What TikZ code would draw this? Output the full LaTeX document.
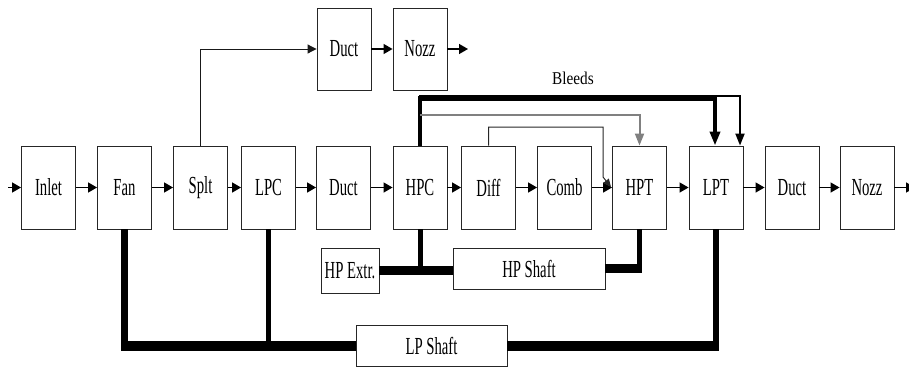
\documentclass[tikz,border=0pt]{standalone}
\usepackage{fontspec}
\setmainfont{Liberation Serif}[FakeStretch=0.6]
\newfontfamily\bleedfont{Liberation Serif}[FakeStretch=0.85]
\usetikzlibrary{arrows.meta}
\begin{document}
\begin{tikzpicture}[x=1pt,y=-1pt,
  blk/.style={draw=black!85, fill=white, line width=0.9pt, minimum width=54pt, minimum height=83pt, inner sep=0pt, font=\fontsize{24.5}{26}\selectfont},
  flow/.style={line width=1.4pt, -{Triangle[length=9pt,width=10pt]}},
  thin flow/.style={line width=1pt, draw=black!90, -{Triangle[length=9pt,width=9pt]}},
  shaft/.style={line width=9pt},
  spoke/.style={line width=5pt}
]
\useasboundingbox (0,0) rectangle (909,367);
% main row
\node[blk] (inlet) at (48.5,187.5) {Inlet};
\node[blk] (fan)   at (124.5,187.5) {Fan};
\node[blk] (splt)  at (200.5,187.5) {Splt};
\node[blk] (lpc)   at (268.5,187.5) {LPC};
\node[blk] (duct)  at (343.5,187.5) {Duct};
\node[blk] (hpc)   at (420,187.5) {HPC};
\node[blk] (diff)  at (488.5,187.5) {Diff};
\node[blk] (comb)  at (564.5,187.5) {Comb};
\node[blk] (hpt)   at (639.5,187.5) {HPT};
\node[blk] (lpt)   at (716,187.5) {LPT};
\node[blk] (ductb) at (792,187.5) {Duct};
\node[blk] (nozzb) at (867,187.5) {Nozz};
% bypass row
\node[blk, minimum height=82pt] (ductt) at (344,49) {Duct};
\node[blk, minimum height=82pt] (nozzt) at (420,49) {Nozz};
% shafts
\node[blk, minimum width=58pt, minimum height=45pt] (hpext) at (350,270.5) {HP Extr.};
\node[blk, minimum width=152pt, minimum height=41pt] (hpshaft) at (529,268.5) {\raisebox{-6pt}{HP Shaft}};
\node[blk, minimum width=151pt, minimum height=41pt] (lpshaft) at (431.5,345.5) {\raisebox{-4pt}{LP Shaft}};
\node[font=\bleedfont\fontsize{18}{20}\selectfont] (bleeds) at (573,78) {Bleeds};
% coordinates
\coordinate (in0) at (8,187.5);
\coordinate (out0) at (915,187.5);
\coordinate (outt) at (468,49);
\coordinate (b1) at (715,98.5);
\coordinate (b2) at (740,95.5);
\coordinate (g1) at (639.5,115);
\coordinate (d1) at (603,127);
\coordinate (d2) at (603,177);
\coordinate (d3) at (611,187);
% main flow
\draw[flow] (in0) -- (inlet);
\draw[flow] (inlet) -- (fan);
\draw[flow] (fan) -- (splt);
\draw[flow] (splt) -- (lpc);
\draw[flow] (lpc) -- (duct);
\draw[flow] (duct) -- (hpc);
\draw[flow] (hpc) -- (diff);
\draw[flow] (diff) -- (comb);
\draw[flow] (comb) -- (hpt);
\draw[flow] (hpt) -- (lpt);
\draw[flow] (lpt) -- (ductb);
\draw[flow] (ductb) -- (nozzb);
\begin{scope}
\clip (0,0) rectangle (909,367);
\draw[flow] (nozzb) -- (out0);
\end{scope}
% bypass
\draw[thin flow] (splt.north) |- (ductt.west);
\draw[flow] (ductt) -- (nozzt);
\draw[flow] (nozzt) -- (outt);
% bleeds
\draw[line width=2pt, -{Triangle[length=12pt,width=9pt]}] (hpc.north) |- (b2) -- (b2 |- lpt.north);
\draw[line width=4.5pt, -{Triangle[length=14pt,width=10pt]}] (hpc.north) |- (b1) -- (b1 |- lpt.north);
\draw[line width=2pt, black!50, -{Triangle[length=12pt,width=9pt]}] (g1 -| hpc.north) -- (g1) -- (hpt.north);
\draw[line width=1pt, black!85, -{Triangle[length=8pt,width=7pt]}] (diff.north) |- (d1) -- (d2) -- (d3);
% HP shaft
\draw[shaft] (hpext.east) -- (hpext.east -| hpshaft.west);
\draw[spoke] (hpc.south) -- (hpc.south |- hpext.east);
\draw[shaft] (hpshaft.east) -- ([xshift=2.5pt]hpshaft.east -| hpt.south);
\draw[spoke] (hpt.south) -- (hpt.south |- hpshaft.east);
% LP shaft
\draw[line width=10pt] ([xshift=-3.5pt]fan.south |- lpshaft.west) -- (lpshaft.west);
\draw[line width=7pt] (fan.south) -- (fan.south |- lpshaft.west);
\draw[spoke] (lpc.south) -- (lpc.south |- lpshaft.west);
\draw[line width=10pt] (lpshaft.east) -- ([xshift=3pt]lpshaft.east -| lpt.south);
\draw[line width=6pt] (lpt.south) -- (lpt.south |- lpshaft.east);
\end{tikzpicture}
\end{document}
